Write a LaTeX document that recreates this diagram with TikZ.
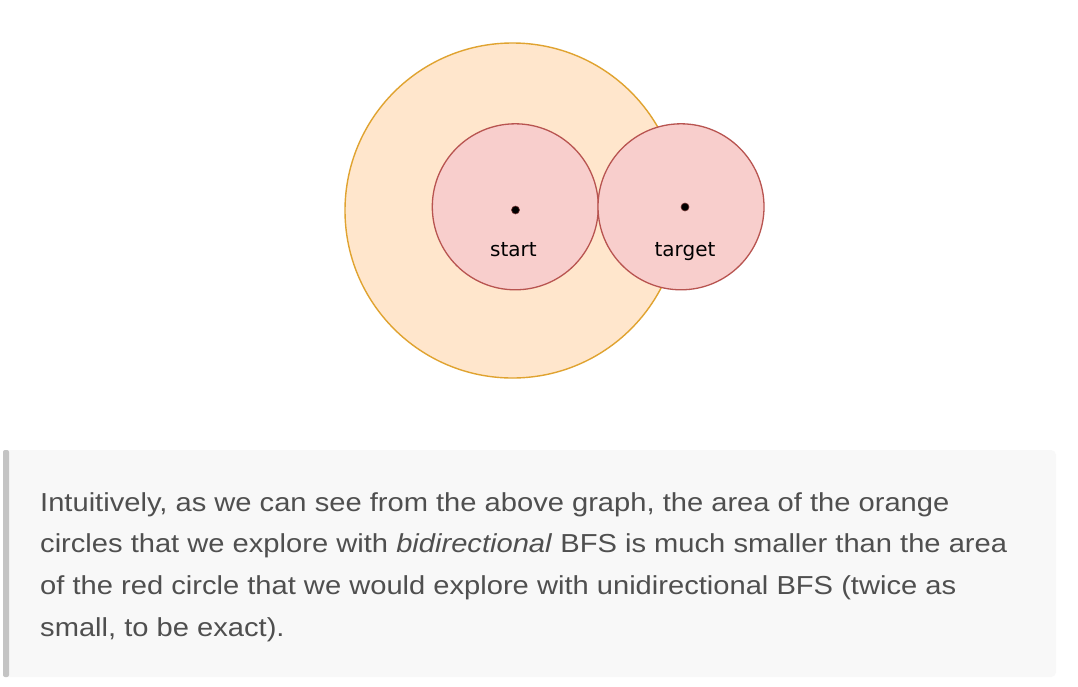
\documentclass[tikz,border=0pt]{standalone}
\usepackage{fontspec}
\setmainfont[FakeStretch=1.12]{Liberation Sans}
\newfontfamily\labelfont{DejaVu Sans}
\definecolor{orfill}{HTML}{FFE6CC}
\definecolor{ordraw}{HTML}{E0A330}
\definecolor{rdfill}{HTML}{F8CECC}
\definecolor{rddraw}{HTML}{B85450}
\definecolor{boxbg}{HTML}{F8F8F8}
\definecolor{boxbar}{HTML}{C4C4C4}
\definecolor{txt}{HTML}{4F4F4F}
\begin{document}
\begin{tikzpicture}[x=1pt,y=-1pt,
  bigcirc/.style={circle,draw=ordraw,fill=orfill,line width=1.4pt,minimum size=335pt,inner sep=0pt},
  redcirc/.style={circle,draw=rddraw,fill=rdfill,line width=1.3pt,minimum size=166pt,inner sep=0pt},
  centerdot/.style={circle,fill=black,draw=rddraw!60!black,line width=0.6pt,minimum size=8pt,inner sep=0pt},
  lbl/.style={font=\labelfont\fontsize{20}{24}\selectfont,text=black,inner sep=0pt,anchor=base},
  para/.style={font=\fontsize{26}{30}\selectfont,text=txt,anchor=base west,inner sep=0pt}]
\useasboundingbox (0,0) rectangle (1078,686);
\fill[white] (0,0) rectangle (1078,686);
% circles
\node[bigcirc] (explore) at (512.5,210.5) {};
\node[redcirc] (startc) at (515.3,206.8) {};
\node[redcirc] (targetc) at (681,206.8) {};
\node[centerdot] (sdot) at (515.5,210) {};
\node[centerdot] (tdot) at (685,207) {};
\node[lbl] (slabel) at (513.5,256) {start};
\node[lbl] (tlabel) at (685,256) {target};
% text box
\fill[boxbg,rounded corners=5pt] (3,450) rectangle (1056,677);
\fill[boxbar,rounded corners=2pt] (3,450) rectangle (9,677);
\node[para] (l1) at (40,511) {Intuitively, as we can see from the above graph, the area of the orange};
\node[para] (l2) at (40,552.7) {circles that we explore with \textit{bidirectional} BFS is much smaller than the area};
\node[para] (l3) at (40,594.4) {of the red circle that we would explore with unidirectional BFS (twice as};
\node[para] (l4) at (40,636) {small, to be exact).};
\end{tikzpicture}
\end{document}
